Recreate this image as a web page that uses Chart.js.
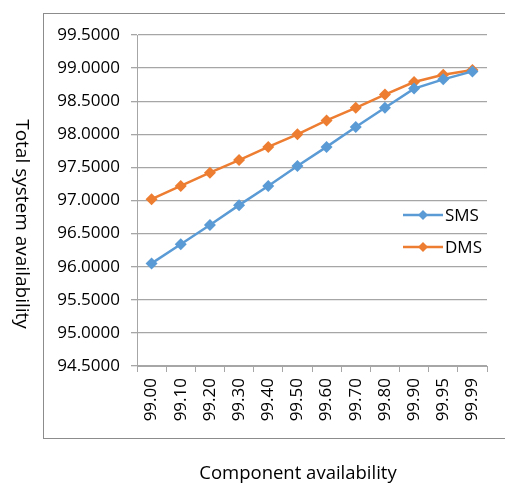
<!DOCTYPE html>
<html><head><meta charset="utf-8">
<script src="https://cdn.jsdelivr.net/npm/chart.js@4/dist/chart.umd.min.js"></script>
<style>html,body{margin:0;padding:0;background:#fff}#wrap{width:505px;height:484px;position:relative}</style>
</head><body><div id="wrap"><canvas id="c" width="505" height="484"></canvas></div>
<script>
const categories = ["99.00","99.10","99.20","99.30","99.40","99.50","99.60","99.70","99.80","99.90","99.95","99.99"];
const smsValues = [96.05,96.34,96.63,96.93,97.22,97.52,97.81,98.11,98.40,98.69,98.83,98.95];
const dmsValues = [97.02,97.22,97.42,97.61,97.81,98.00,98.21,98.40,98.60,98.79,98.90,98.97];
const yMin = 94.5, yMax = 99.5, yStep = 0.5;
const xTitle = "Component availability";
const yTitle = "Total system availability";

const FONT = "'Open Sans', sans-serif";
const GRID = "#a6a6a6";

const decor = {
  id: 'decor',
  beforeDraw(chart) {
    const ctx = chart.ctx;
    ctx.save();
    ctx.strokeStyle = "#8c8c8c";
    ctx.lineWidth = 1;
    ctx.strokeRect(43.5, 13.5, 520, 425);
    ctx.restore();
  },
  afterDraw(chart) {
    const ctx = chart.ctx;
    ctx.save();
    ctx.fillStyle = "#000";
    ctx.font = "18.5px " + FONT;
    ctx.textAlign = "center";
    ctx.textBaseline = "middle";
    ctx.fillText(xTitle, 298, 474);
    ctx.font = "19px " + FONT;
    ctx.translate(21, 224);
    ctx.rotate(Math.PI / 2);
    ctx.fillText(yTitle, 0, 0);
    ctx.restore();
    // legend
    ctx.save();
    chart.data.datasets.forEach((ds, i) => {
      const y = 215 + i * 32;
      ctx.strokeStyle = ds.borderColor;
      ctx.lineWidth = 2.5;
      ctx.beginPath(); ctx.moveTo(403, y); ctx.lineTo(443, y); ctx.stroke();
      ctx.fillStyle = ds.borderColor;
      ctx.beginPath();
      ctx.moveTo(423, y - 5); ctx.lineTo(428, y); ctx.lineTo(423, y + 5); ctx.lineTo(418, y); ctx.closePath();
      ctx.fill();
      ctx.fillStyle = "#000";
      ctx.font = "17px " + FONT;
      ctx.textAlign = "left";
      ctx.textBaseline = "middle";
      ctx.fillText(ds.label, 445, y + 1);
    });
    ctx.restore();
  }
};

new Chart(document.getElementById('c'), {
  type: 'line',
  data: {
    labels: categories,
    datasets: [
      { label: 'SMS', data: smsValues, borderColor: '#5b9bd5', backgroundColor: '#5b9bd5',
        borderWidth: 2.5, pointStyle: 'rectRot', pointRadius: 6, pointBorderWidth: 0, tension: 0 },
      { label: 'DMS', data: dmsValues, borderColor: '#ed7d31', backgroundColor: '#ed7d31',
        borderWidth: 2.5, pointStyle: 'rectRot', pointRadius: 6, pointBorderWidth: 0, tension: 0 }
    ]
  },
  options: {
    responsive: false,
    animation: false,
    devicePixelRatio: 1,
    layout: { padding: { top: 35, right: 18, bottom: 0, left: 0 } },
    plugins: { legend: { display: false }, tooltip: { enabled: false } },
    scales: {
      x: {
        offset: true,
        grid: { offset: true, drawOnChartArea: false, drawTicks: true, tickLength: 6, color: GRID },
        border: { color: GRID },
        ticks: { maxRotation: 90, minRotation: 90, padding: 6, color: '#000', font: { family: FONT, size: 17 } },
        afterFit(s) { s.height = 118; }
      },
      y: {
        min: yMin, max: yMax,
        grid: { color: GRID, tickLength: 6, lineWidth: 1.3 },
        border: { color: GRID },
        ticks: { stepSize: yStep, padding: 11, color: '#000', font: { family: FONT, size: 17 },
          callback: v => Number(v).toFixed(4) },
        afterFit(s) { s.width = 137; }
      }
    }
  },
  plugins: [decor]
});
</script></body></html>
